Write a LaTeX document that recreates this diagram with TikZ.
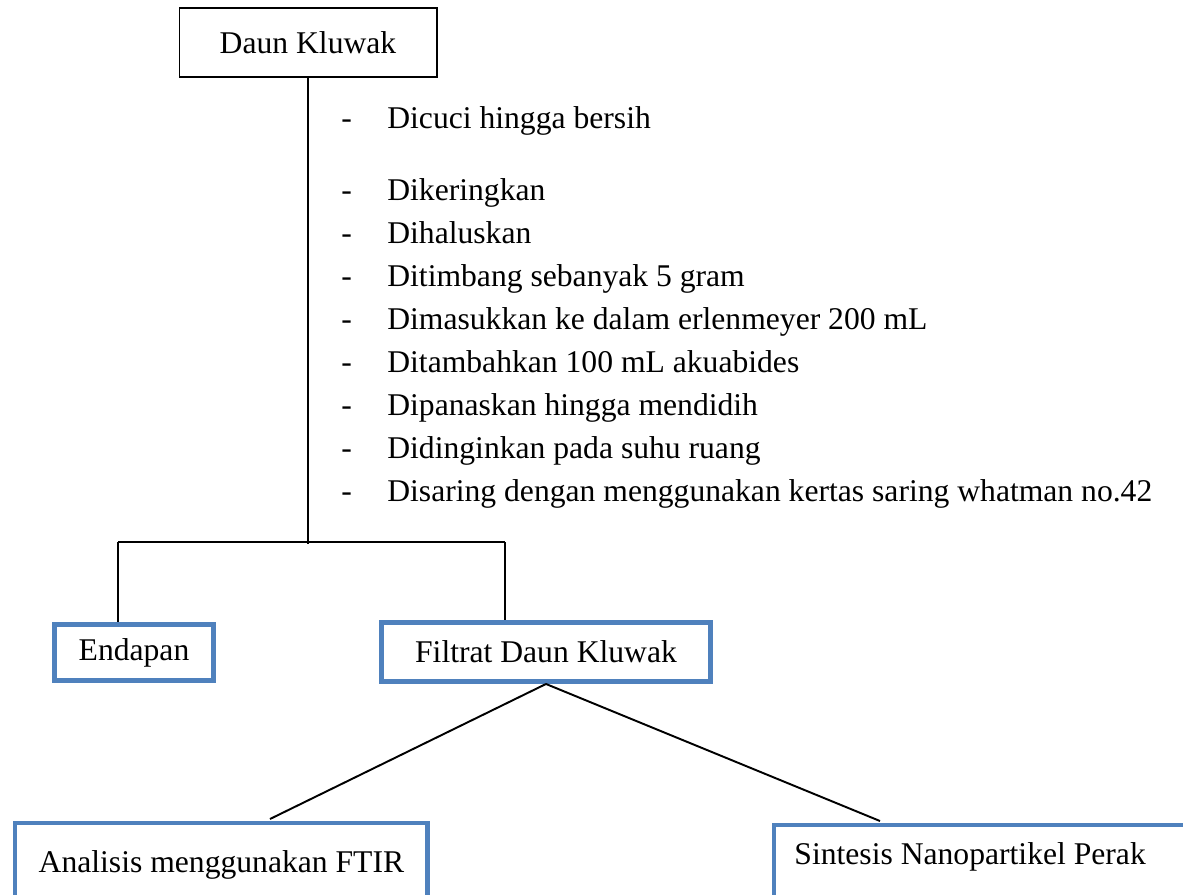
\documentclass[tikz,border=0pt]{standalone}
\usepackage{fontspec}
\setmainfont{Liberation Serif}
\usetikzlibrary{positioning}
\definecolor{boxblue}{RGB}{79,129,189}

\begin{document}
\begin{tikzpicture}[x=0.02cm, y=-0.02cm, font=\fontsize{18}{21}\selectfont,
  plainbox/.style={draw, line width=0.6pt, inner sep=0pt, minimum width=5.16cm, minimum height=1.38cm},
  bluebox/.style={draw=boxblue, line width=2.8pt, inner sep=0pt},
  link/.style={line width=1.1pt}]
  \useasboundingbox (0,0) rectangle (1183,894);
  \clip (0,0) rectangle (1183,894);
  % raw material
  \node[plainbox] (daun) at (308,42.5) {Daun Kluwak};
  % preparation steps
  \foreach \i/\yb/\txt in {1/128/Dicuci hingga bersih, 2/200/Dikeringkan, 3/243/Dihaluskan,
      4/286/Ditimbang sebanyak 5 gram, 5/329/Dimasukkan ke dalam erlenmeyer 200 mL,
      6/372/Ditambahkan 100 mL akuabides, 7/415/Dipanaskan hingga mendidih,
      8/458/Didinginkan pada suhu ruang, 9/501/Disaring dengan menggunakan kertas saring whatman no.42} {
    \node[anchor=base west, inner sep=0pt] (dash\i) at (341,\yb) {-};
    \node[anchor=base west, inner sep=0pt] (item\i) at (387,\yb) {\txt};
  }
  % filtering
  \coordinate (split) at (308,544);
  \coordinate (splitL) at (118,542);
  \coordinate (splitR) at (505,542);
  \node[bluebox, minimum width=3.18cm, minimum height=1.12cm] (endapan) at (134,652.5) {Endapan};
  \node[bluebox, minimum width=6.58cm, minimum height=1.18cm] (filtrat) at (546,652) {Filtrat Daun Kluwak};
  \draw[link] (daun) -- (split);
  \draw[link] (splitL) -- (splitR);
  \draw[link] (splitL) -- (splitL |- endapan.north);
  \draw[link] (splitR) -- (splitR |- filtrat.north);
  % use of the filtrate
  \node[bluebox, anchor=north west, minimum width=8.26cm, text height=0.99cm, text depth=1cm] (analisis) at (12.5,820.5) {Analisis menggunakan FTIR};
  \node[bluebox, anchor=north west, inner xsep=0.41cm, text height=0.79cm, text depth=1cm] (sintesis) at (771.5,822.5) {\makebox[9cm][l]{Sintesis Nanopartikel Perak}};
  \coordinate (toFTIR) at (270,819);
  \coordinate (toAgNP) at (880,821);
  \draw[link] (filtrat.south) -- (toFTIR);
  \draw[link] (filtrat.south) -- (toAgNP);
\end{tikzpicture}
\end{document}
